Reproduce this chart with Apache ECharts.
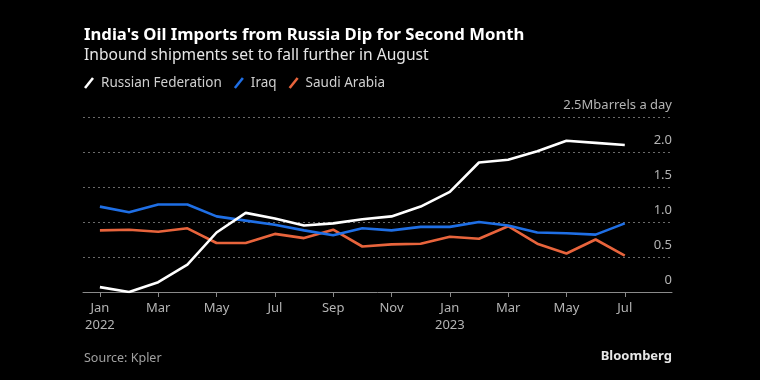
<!DOCTYPE html>
<html>
<head>
<meta charset="utf-8">
<script src="https://cdn.jsdelivr.net/npm/echarts@6/dist/echarts.min.js"></script>
<style>
html,body{margin:0;padding:0;background:#000;}
#c{width:760px;height:380px;}
</style>
</head>
<body>
<div id="c"></div>
<script>
const months = ['Jan 2022','Feb 2022','Mar 2022','Apr 2022','May 2022','Jun 2022','Jul 2022','Aug 2022','Sep 2022','Oct 2022','Nov 2022','Dec 2022','Jan 2023','Feb 2023','Mar 2023','Apr 2023','May 2023','Jun 2023','Jul 2023'];
const russia = [0.07,0.0,0.14,0.39,0.85,1.13,1.05,0.95,0.98,1.04,1.08,1.22,1.43,1.85,1.89,2.01,2.16,2.13,2.10];
const iraq = [1.22,1.14,1.25,1.25,1.08,1.02,0.96,0.88,0.81,0.91,0.88,0.93,0.93,1.00,0.95,0.85,0.84,0.82,0.98];
const saudi = [0.88,0.89,0.86,0.91,0.70,0.70,0.83,0.77,0.89,0.65,0.68,0.69,0.79,0.76,0.94,0.69,0.55,0.75,0.52];
const xTickPos = [0,2,4,6,8,10,12,14,16,18];
const xTickLabels = ['Jan\n2022','Mar','May','Jul','Sep','Nov','Jan\n2023','Mar','May','Jul'];
const yTicks = [0,0.5,1.0,1.5,2.0,2.5];
const yUnit = 'Mbarrels a day';

const seriesNames = ['Russian Federation','Iraq','Saudi Arabia'];
const seriesData = [russia, iraq, saudi];
const colors = ['#ffffff','#1f6fe5','#e8643c'];

const chart = echarts.init(document.getElementById('c'));
const font = '"Noto Sans", sans-serif';
const slash = 'path://M0,10 L8,0 L10,1.6 L2,11.6 Z';

chart.setOption({
  backgroundColor: '#000',
  animation: false,
  title: [
    {text: "India's Oil Imports from Russia Dip for Second Month", left: 84, top: 27, padding: 0,
     textStyle: {color:'#fff', fontSize:16.7, fontWeight:'bold', fontFamily: font}},
    {text: 'Inbound shipments set to fall further in August', left: 84, top: 48, padding: 0,
     textStyle: {color:'#e6e6e6', fontSize:15.6, fontWeight:'normal', fontFamily: font}},
    {text: 'Source: Kpler', left: 84, top: 352, padding: 0,
     textStyle: {color:'#a0a0a0', fontSize:12.5, fontWeight:'normal', fontFamily: font}},
    {text: 'Bloomberg', right: 88, top: 350, padding: 0,
     textStyle: {color:'#e6e6e6', fontSize:13, fontWeight:'bold', fontFamily: font}}
  ],
  legend: {
    left: 84, top: 76, padding: 0, itemWidth: 10, itemHeight: 12, itemGap: 12,
    icon: slash,
    data: seriesNames.map((n,i)=>({name:n, icon: slash, itemStyle:{color:colors[i]}})),
    textStyle: {color:'#cfcfcf', fontSize:13.5, fontFamily: font, padding:[0,0,0,2]}
  },
  grid: {left: 83, right: 88, top: 117, bottom: 88, containLabel: false},
  xAxis: {
    type: 'value', min: -0.58, max: 19.62,
    axisLine: {show: true, lineStyle: {color:'#8a8a8a', width:1}},
    axisTick: {show: true, customValues: xTickPos, length: 5, lineStyle:{color:'#8a8a8a'}},
    axisLabel: {show: true, customValues: xTickPos, color:'#b4b4b4', fontSize:13, fontFamily: font, lineHeight:17, margin:8,
      formatter: v => { const i = xTickPos.indexOf(Math.round(v)); return i>=0 ? xTickLabels[i] : ''; }},
    splitLine: {show: false}
  },
  yAxis: {
    type: 'value', position: 'right', min: 0, max: 2.5, interval: 0.5,
    axisLine: {show:false}, axisTick: {show:false},
    axisLabel: {inside: true, margin: 0, verticalAlign: 'bottom', padding:[0,0,5,0], color:'#b4b4b4', fontSize:13, fontFamily: font,
      formatter: v => v === 0 ? '0' : (Math.abs(v-2.5)<1e-9 ? v.toFixed(1) + yUnit : v.toFixed(1))},
    splitLine: {show: true, lineStyle: {color:'#6a6a6a', type:[2,3], width:1}}
  },
  series: seriesNames.map((n,i)=>({
    name: n, type: 'line', symbol: 'none', z: 10 - i,
    data: seriesData[i].map((v,j)=>[j, v]),
    lineStyle: {color: colors[i], width: 2.6},
    itemStyle: {color: colors[i]}
  }))
});
</script>
</body>
</html>
